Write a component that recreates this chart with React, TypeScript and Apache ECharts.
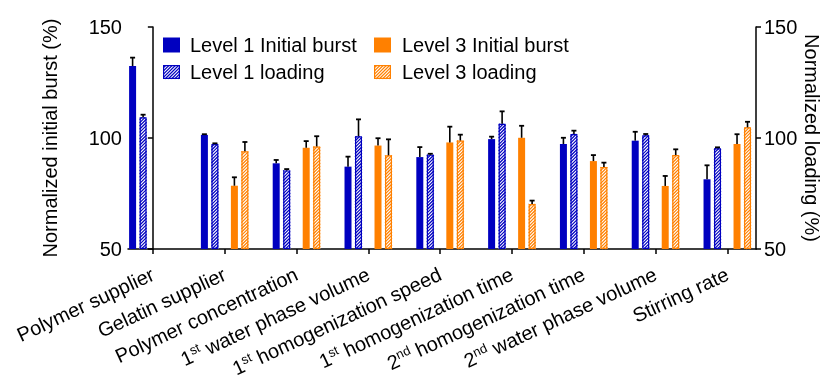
import React, { useEffect, useRef } from "react";
import * as echarts from "echarts";

const categories = [
  "Polymer supplier",
  "Gelatin supplier",
  "Polymer concentration",
  "1st water phase volume",
  "1st homogenization speed",
  "1st homogenization time",
  "2nd homogenization time",
  "2nd water phase volume",
  "Stirring rate",
];

const seriesNames = [
  "Level 1 Initial burst",
  "Level 1 loading",
  "Level 3 Initial burst",
  "Level 3 loading",
];

const level1Initial = [132.4, 101.4, 88.6, 87.1, 91.4, 99.5, 97.3, 98.8, 81.4];
const level1InitialErr = [3.8, 0.3, 1.5, 4.5, 4.5, 1.1, 2.8, 4.0, 6.3];
const level1Loading = [109.3, 97.3, 85.4, 100.8, 92.5, 106.4, 101.8, 101.2, 95.4];
const level1LoadingErr = [1.2, 0.3, 0.6, 7.6, 0.4, 5.6, 1.5, 0.6, 0.4];
const level3Initial = [null, 78.5, 95.6, 96.6, 98.0, 100.1, 89.6, 78.4, 97.3];
const level3InitialErr = [null, 3.8, 3.0, 3.3, 7.1, 5.4, 2.7, 4.5, 4.4];
const level3Loading = [null, 94.0, 96.2, 92.2, 98.9, 70.3, 86.9, 92.3, 104.8];
const level3LoadingErr = [null, 4.2, 4.6, 7.2, 2.6, 1.5, 2.0, 2.6, 2.5];

const yTicks = { min: 50, max: 150, interval: 50 };

const BLUE = "#0000C0";
const ORANGE = "#FF8000";
const FONT = "'Liberation Sans', Arial, Helvetica, sans-serif";
const BAR_W = 7;
const HATCH_STEP = 3.2;

function hatchSegments(x0: number, y0: number, x1: number, y1: number, step: number) {
  const segs: number[][] = [];
  const cStart = Math.ceil((x0 + y0) / step) * step;
  for (let c = cStart; c <= x1 + y1; c += step) {
    const xa = Math.max(x0, c - y1);
    const xb = Math.min(x1, c - y0);
    if (xb - xa > 0.2) segs.push([xa, c - xa, xb, c - xb]);
  }
  return segs;
}

function hatchIcon(color: string) {
  const w = 17, h = 14;
  const segs = hatchSegments(0, 0, w, h, HATCH_STEP);
  const lines = segs
    .map((s) => `<line x1="${s[0]}" y1="${s[1]}" x2="${s[2]}" y2="${s[3]}" stroke="${color}" stroke-width="1.2"/>`)
    .join("");
  const svg = `<svg xmlns="http://www.w3.org/2000/svg" width="${w}" height="${h}" viewBox="0 0 ${w} ${h}"><rect x="0" y="0" width="${w}" height="${h}" fill="#ffffff"/>${lines}<rect x="0.6" y="0.6" width="${w - 1.2}" height="${h - 1.2}" fill="none" stroke="${color}" stroke-width="1.2"/></svg>`;
  return "image://data:image/svg+xml;charset=utf-8," + encodeURIComponent(svg);
}

function buildData(vals: (number | null)[], errs: (number | null)[]) {
  const out: number[][] = [];
  vals.forEach((v, i) => {
    if (v != null) out.push([i, v, errs[i] as number]);
  });
  return out;
}

function makeRender(offset: number, hatched: boolean, color: string) {
  return (params: any, api: any) => {
    const i = api.value(0);
    const v = api.value(1);
    const e = api.value(2);
    const base = api.coord([i, yTicks.min]);
    const top = api.coord([i, v]);
    const errTop = api.coord([i, v + e]);
    const cx = base[0] + offset;
    const x0 = cx - BAR_W / 2;
    const x1 = cx + BAR_W / 2;
    const y0 = top[1];
    const y1 = base[1];
    const children: any[] = [];
    if (hatched) {
      children.push({ type: "rect", shape: { x: x0, y: y0, width: BAR_W, height: y1 - y0 }, style: { fill: "#fff" } });
      hatchSegments(x0, y0, x1, y1, HATCH_STEP).forEach((s) =>
        children.push({ type: "line", shape: { x1: s[0], y1: s[1], x2: s[2], y2: s[3] }, style: { stroke: color, lineWidth: 1.2 } })
      );
      children.push({
        type: "rect",
        shape: { x: x0 + 0.6, y: y0 + 0.6, width: BAR_W - 1.2, height: y1 - y0 - 1.2 },
        style: { fill: "none", stroke: color, lineWidth: 1.2 },
      });
    } else {
      children.push({ type: "rect", shape: { x: x0, y: y0, width: BAR_W, height: y1 - y0 }, style: { fill: color } });
    }
    children.push({ type: "line", shape: { x1: cx, y1: y0, x2: cx, y2: errTop[1] }, style: { stroke: "#000", lineWidth: 1.6 } });
    children.push({ type: "line", shape: { x1: cx - 2.5, y1: errTop[1], x2: cx + 2.5, y2: errTop[1] }, style: { stroke: "#000", lineWidth: 1.8 } });
    return { type: "group", children };
  };
}

function formatCat(v: number) {
  const name = categories[Math.round(v)] || "";
  return name.replace(/^(\d)(st|nd|rd|th) /, "$1{sup|$2} ");
}

export default function App() {
  const ref = useRef<HTMLDivElement>(null);
  useEffect(() => {
    document.body.style.margin = "0";
    const chart = echarts.init(ref.current!, undefined, { renderer: "svg" });
    const idx = categories.map((_, i) => i);
    const axisLineStyle = { color: "#000", width: 1.5 };
    const textBase = { fontSize: 20, color: "#000", fontFamily: FONT };
    const yCommon = {
      type: "value",
      min: yTicks.min,
      max: yTicks.max,
      interval: yTicks.interval,
      nameLocation: "middle",
      nameMoveOverlap: false,
      nameTextStyle: textBase,
      axisLine: { show: true, lineStyle: axisLineStyle },
      axisTick: { show: true, length: 5, lineStyle: axisLineStyle },
      splitLine: { show: false },
    };
    const legendCommon = {
      orient: "vertical",
      top: 35,
      padding: 0,
      itemWidth: 17,
      itemHeight: 15,
      itemGap: 7,
    };
    chart.setOption({
      animation: false,
      grid: { left: 128, right: 67, top: 27, bottom: 130, containLabel: false, outerBoundsMode: "none" },
      legend: [
        {
          ...legendCommon,
          left: 163,
          textStyle: { ...textBase, padding: [0, 0, 0, 5] },
          data: [
            { name: seriesNames[0], icon: "rect" },
            { name: seriesNames[1], icon: hatchIcon(BLUE) },
          ],
        },
        {
          ...legendCommon,
          left: 374,
          textStyle: { ...textBase, padding: [0, 0, 0, 6] },
          data: [
            { name: seriesNames[2], icon: "rect" },
            { name: seriesNames[3], icon: hatchIcon(ORANGE) },
          ],
        },
      ],
      xAxis: {
        type: "value",
        min: -0.346,
        max: 8.4,
        axisLine: { show: true, onZero: false, lineStyle: axisLineStyle },
        axisTick: { show: true, customValues: idx, length: 5, lineStyle: axisLineStyle },
        axisLabel: {
          customValues: idx,
          rotate: 25,
          margin: 24,
          formatter: formatCat,
          ...textBase,
          lineHeight: 22,
          rich: {
            sup: { fontSize: 13, fontFamily: FONT, color: "#000", verticalAlign: "top", lineHeight: 12 },
          },
        },
        splitLine: { show: false },
      },
      yAxis: [
        {
          ...yCommon,
          position: "left",
          name: "Normalized initial burst (%)",
          nameGap: 68,
          axisLabel: { ...textBase, margin: 6 },
        },
        {
          ...yCommon,
          position: "right",
          name: "Normalized loading (%)",
          nameRotate: -90,
          nameGap: 46,
          axisLabel: { ...textBase, margin: 8 },
        },
      ],
      series: [
        {
          name: seriesNames[0],
          type: "custom",
          xAxisIndex: 0,
          yAxisIndex: 0,
          itemStyle: { color: BLUE },
          renderItem: makeRender(-20.25, false, BLUE),
          data: buildData(level1Initial, level1InitialErr),
        },
        {
          name: seriesNames[1],
          type: "custom",
          xAxisIndex: 0,
          yAxisIndex: 1,
          itemStyle: { color: BLUE },
          renderItem: makeRender(-9.75, true, BLUE),
          data: buildData(level1Loading, level1LoadingErr),
        },
        {
          name: seriesNames[2],
          type: "custom",
          xAxisIndex: 0,
          yAxisIndex: 0,
          itemStyle: { color: ORANGE },
          renderItem: makeRender(9.75, false, ORANGE),
          data: buildData(level3Initial, level3InitialErr),
        },
        {
          name: seriesNames[3],
          type: "custom",
          xAxisIndex: 0,
          yAxisIndex: 1,
          itemStyle: { color: ORANGE },
          renderItem: makeRender(20.25, true, ORANGE),
          data: buildData(level3Loading, level3LoadingErr),
        },
      ],
    });
    return () => chart.dispose();
  }, []);
  return <div ref={ref} style={{ position: "fixed", left: 0, top: 0, width: 823, height: 379 }} />;
}
